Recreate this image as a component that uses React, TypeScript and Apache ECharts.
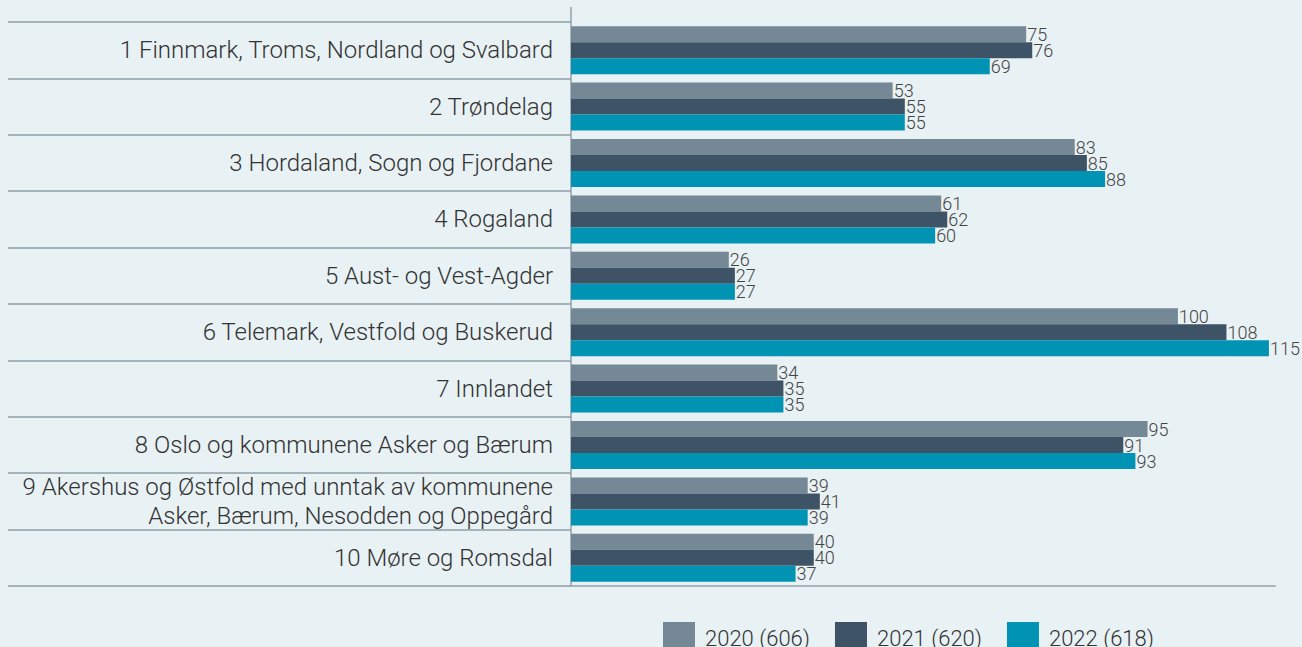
import React, { useEffect, useRef } from "react";
import * as echarts from "echarts";

const categories = [
  "1 Finnmark, Troms, Nordland og Svalbard",
  "2 Trøndelag",
  "3 Hordaland, Sogn og Fjordane",
  "4 Rogaland",
  "5 Aust- og Vest-Agder",
  "6 Telemark, Vestfold og Buskerud",
  "7 Innlandet",
  "8 Oslo og kommunene Asker og Bærum",
  "9 Akershus og Østfold med unntak av kommunene\nAsker, Bærum, Nesodden og Oppegård",
  "10 Møre og Romsdal",
];

const values2020 = [75, 53, 83, 61, 26, 100, 34, 95, 39, 40];
const values2021 = [76, 55, 85, 62, 27, 108, 35, 91, 41, 40];
const values2022 = [69, 55, 88, 60, 27, 115, 35, 93, 39, 37];

const seriesNames = ["2020 (606)", "2021 (620)", "2022 (618)"];
const colors = ["#758895", "#3e5366", "#0093b4"];

const FONT = "Roboto, 'DejaVu Sans', sans-serif";

export default function App() {
  const ref = useRef<HTMLDivElement>(null);

  useEffect(() => {
    document.body.style.margin = "0";
    const chart = echarts.init(ref.current!, undefined, { renderer: "svg" });
    const mkSeries = (name: string, data: number[], color: string) => ({
      name,
      type: "bar",
      data,
      barWidth: 16,
      barGap: "0%",
      itemStyle: { color },
      label: {
        show: true,
        position: "right",
        distance: 1,
        fontFamily: FONT,
        fontWeight: 300,
        fontSize: 18,
        color: "#444",
      },
    });
    chart.setOption({
      animation: false,
      backgroundColor: "#e8f1f4",
      grid: { left: 571, right: 27, top: 22, bottom: 61, containLabel: false },
      legend: {
        left: 658,
        top: 617,
        itemWidth: 32,
        itemHeight: 32,
        itemGap: 25,
        icon: "rect",
        textStyle: { fontFamily: FONT, fontWeight: 300, fontSize: 22, color: "#333", padding: [0, 0, 0, 5] },
        data: seriesNames,
      },
      xAxis: {
        type: "value",
        min: 0,
        max: 116,
        axisLabel: { show: false },
        splitLine: { show: false },
        axisTick: { show: false },
        axisLine: { show: true, lineStyle: { color: "#a8b5bd", width: 2 } },
      },
      yAxis: {
        type: "category",
        inverse: true,
        data: categories,
        axisLine: { show: true, lineStyle: { color: "#a8b5bd", width: 2 } },
        axisTick: { show: true, length: 563, interval: 0, lineStyle: { color: "#8e9ca6", width: 1.5 } },
        axisLabel: {
          margin: 18,
          fontFamily: FONT,
          fontWeight: 300,
          fontSize: 24,
          lineHeight: 29,
          color: "#333",
          align: "right",
          interval: 0,
        },
      },
      graphic: [
        { type: "line", shape: { x1: 571, y1: 7, x2: 571, y2: 22 }, style: { stroke: "#a8b5bd", lineWidth: 2 } },
      ],
      series: [
        mkSeries(seriesNames[0], values2020, colors[0]),
        mkSeries(seriesNames[1], values2021, colors[1]),
        mkSeries(seriesNames[2], values2022, colors[2]),
      ],
    });
    return () => chart.dispose();
  }, []);

  return <div ref={ref} style={{ position: "absolute", left: 0, top: 0, width: 1302, height: 647 }} />;
}
